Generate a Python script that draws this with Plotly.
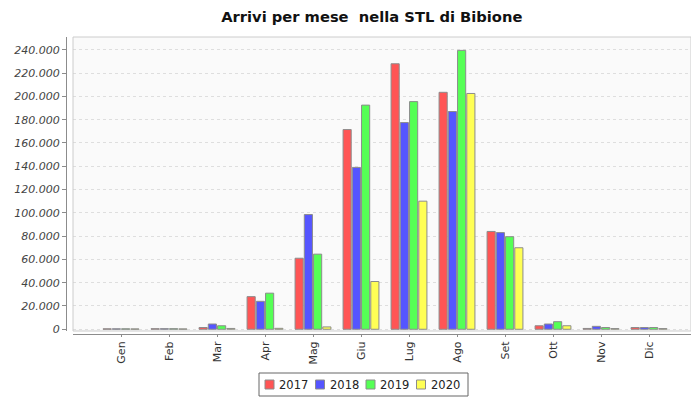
import plotly.graph_objects as go

months = ["Gen", "Feb", "Mar", "Apr", "Mag", "Giu", "Lug", "Ago", "Set", "Ott", "Nov", "Dic"]
years = ["2017", "2018", "2019", "2020"]

arrivi_2017 = [400, 500, 1500, 28000, 61000, 171500, 228000, 203500, 84000, 3000, 700, 1500]
arrivi_2018 = [400, 500, 4500, 24000, 98500, 139000, 177500, 187000, 83000, 4500, 2500, 1500]
arrivi_2019 = [400, 500, 3000, 31000, 64500, 192500, 195500, 239500, 79500, 6500, 1500, 1500]
arrivi_2020 = [300, 300, 700, 800, 2000, 41000, 110000, 202500, 70000, 3000, 600, 600]

series = [arrivi_2017, arrivi_2018, arrivi_2019, arrivi_2020]
colors = ["#FF5555", "#5555FF", "#55FF55", "#FFFF55"]

tick_vals = [0, 20000, 40000, 60000, 80000, 100000, 120000, 140000, 160000, 180000, 200000, 220000, 240000]
tick_text = ["0", "20.000", "40.000", "60.000", "80.000", "100.000", "120.000", "140.000",
             "160.000", "180.000", "200.000", "220.000", "240.000"]

W, H = 691, 398
ML, MR, MT, MB = 66, 0, 37, 64
PW, PH = W - ML - MR, H - MT - MB


def px_x(p):
    return (p - ML) / PW


def px_y(p):
    return (H - MB - p) / PH


fig = go.Figure()
for name, vals, col in zip(years, series, colors):
    fig.add_trace(go.Bar(
        x=months, y=vals, name=name, showlegend=False,
        marker=dict(color=col, line=dict(color="#8c8c8c", width=1)),
    ))

# legend (compact, boxed, as in the original chart)
shapes = [dict(type="rect", xref="x domain", yref="y domain", x0=0, x1=1, y0=0, y1=1,
               line=dict(color="#cccccc", width=1), layer="above"),
          dict(type="rect", xref="paper", yref="paper",
               x0=px_x(259), x1=px_x(468), y0=px_y(396), y1=px_y(373),
               line=dict(color="#666666", width=1), fillcolor="white")]
annotations = []
for i, (name, col) in enumerate(zip(years, colors)):
    sx = 265 + i * 50.5
    shapes.append(dict(type="rect", xref="paper", yref="paper",
                       x0=px_x(sx), x1=px_x(sx + 9), y0=px_y(389), y1=px_y(380),
                       line=dict(color="#8c8c8c", width=1), fillcolor=col))
    annotations.append(dict(text=name, xref="paper", yref="paper",
                            x=px_x(sx + 12), y=px_y(384.5), xanchor="left", yanchor="middle",
                            showarrow=False,
                            font=dict(family="DejaVu Sans", size=11.5, color="#222222")))

fig.update_layout(
    width=W, height=H,
    margin=dict(l=ML, r=MR, t=MT, b=MB),
    paper_bgcolor="white",
    plot_bgcolor="#FAFAFA",
    barmode="group",
    bargap=0.23,
    bargroupgap=0.12,
    showlegend=False,
    font=dict(family="DejaVu Sans", size=11, color="#444444"),
    title=dict(
        text="Arrivi per mese  nella STL di Bibione",
        x=0.538, xref="container", xanchor="center",
        y=1 - 17 / 398, yref="container", yanchor="middle",
        font=dict(family="DejaVu Sans", size=14.7, color="#111111", weight="bold"),
    ),
    xaxis=dict(
        domain=[7 / PW, 1],
        anchor="free", position=0,
        range=[-1.0, 11.875],
        tickangle=-90,
        tickfont=dict(family="DejaVu Sans", size=11, color="#333333"),
        showline=True, linecolor="#8c8c8c", linewidth=1,
        ticks="outside", ticklen=2, tickcolor="#8c8c8c",
        showgrid=False, zeroline=False,
    ),
    yaxis=dict(
        domain=[3 / PH, 1],
        anchor="free", position=0,
        range=[-1500, 251000],
        tickvals=tick_vals, ticktext=tick_text,
        tickfont=dict(family="DejaVu Sans", size=11, color="#444444", style="italic"),
        showline=True, linecolor="#8c8c8c", linewidth=1,
        ticks="outside", ticklen=4, tickcolor="#8c8c8c",
        showgrid=True, gridcolor="#dedede", griddash="3px,3px", gridwidth=1,
        zeroline=False,
    ),
    shapes=shapes,
    annotations=annotations,
)

fig.write_html("out.html", config={"displayModeBar": False},
               post_script="document.body.style.margin='0';")
